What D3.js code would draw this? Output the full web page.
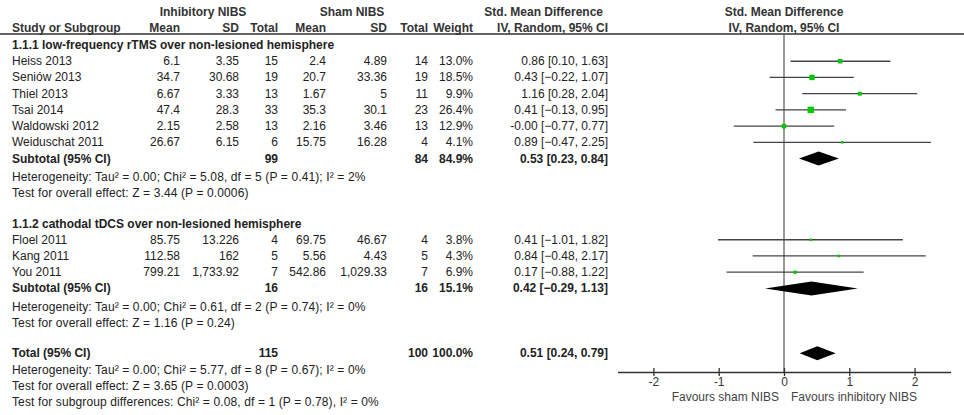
<!DOCTYPE html>
<html><head><meta charset="utf-8">
<script src="https://cdn.jsdelivr.net/npm/d3@7"></script>
<style>
html,body{margin:0;padding:0;background:#fff;}
svg{display:block;font-family:"Liberation Sans",Arial,sans-serif;}
</style></head>
<body><svg id="c" width="964" height="415"></svg>
<script>
// ---------- data ----------
const studies   = ["Heiss 2013","Seniów 2013","Thiel 2013","Tsai 2014","Waldowski 2012","Weiduschat 2011","Floel 2011","Kang  2011","You 2011"];
const studyRow  = [1,2,3,4,5,6,12,13,14];
const meanI     = ["6.1","34.7","6.67","47.4","2.15","26.67","85.75","112.58","799.21"];
const sdI       = ["3.35","30.68","3.33","28.3","2.58","6.15","13.226","162","1,733.92"];
const totalI    = ["15","19","13","33","13","6","4","5","7"];
const meanS     = ["2.4","20.7","1.67","35.3","2.16","15.75","69.75","5.56","542.86"];
const sdS       = ["4.89","33.36","5","30.1","3.46","16.28","46.67","4.43","1,029.33"];
const totalS    = ["14","19","11","23","13","4","4","5","7"];
const weight    = [13.0,18.5,9.9,26.4,12.9,4.1,3.8,4.3,6.9];
const smd       = [0.86,0.43,1.16,0.41,-0.00,0.89,0.41,0.84,0.17];
const smdLabel  = ["0.86","0.43","1.16","0.41","-0.00","0.89","0.41","0.84","0.17"];
const ciLo      = [0.10,-0.22,0.28,-0.13,-0.77,-0.47,-1.01,-0.48,-0.88];
const ciHi      = [1.63,1.07,2.04,0.95,0.77,2.25,1.82,2.17,1.22];

const pooledLabel = ["Subtotal (95% CI)","Subtotal (95% CI)","Total (95% CI)"];
const pooledRow   = [7,15,19];
const pooledTotI  = ["99","16","115"];
const pooledTotS  = ["84","16","100"];
const pooledW     = ["84.9%","15.1%","100.0%"];
const pooledEst   = [0.53,0.42,0.51];
const pooledLo    = [0.23,-0.29,0.24];
const pooledHi    = [0.84,1.13,0.79];

const subgroupTitles = ["1.1.1 low-frequency rTMS over non-lesioned hemisphere","1.1.2 cathodal tDCS over non-lesioned hemisphere"];
const subgroupRow    = [0,11];

const notes = [
  "Heterogeneity: Tau² = 0.00; Chi² = 5.08, df = 5 (P = 0.41); I² = 2%",
  "Test for overall effect: Z = 3.44 (P = 0.0006)",
  "Heterogeneity: Tau² = 0.00; Chi² = 0.61, df = 2 (P = 0.74); I² = 0%",
  "Test for overall effect: Z = 1.16 (P = 0.24)",
  "Heterogeneity: Tau² = 0.00; Chi² = 5.77, df = 8 (P = 0.67); I² = 0%",
  "Test for overall effect: Z = 3.65 (P = 0.0003)",
  "Test for subgroup differences: Chi² = 0.08, df = 1 (P = 0.78), I² = 0%"
];
const noteRow = [8.15,9.15,16.15,17.15,20,21,22];

const axisTicks = [-2,-1,0,1,2];
const favourLeft = "Favours sham NIBS";
const favourRight = "Favours inhibitory NIBS";

// ---------- layout ----------
const svg = d3.select("#c");
const FS = 12;
const txt = "#222";
const y = d3.scaleLinear().domain([0,22]).range([45,402]);
const x = d3.scaleLinear().domain([-2.55,2.55]).range([617.5,950.5]);
const sq = d3.scaleSqrt().domain([0,26.4]).range([0,6.4]);
const col = {name:12, meanI:180, sdI:239, totI:278, meanS:326, sdS:387, totS:428, w:473, ci:608};
const axisY = 372;

function text(g, s, xx, yy, anchor, bold, color){
  return g.append("text").attr("x",xx).attr("y",yy+4).attr("text-anchor",anchor||"start")
    .attr("font-size",FS).attr("font-weight",bold?"bold":"normal").attr("fill",color||txt).text(s);
}

// headers
const hdr = svg.append("g");
text(hdr,"Inhibitory NIBS",203,12,"middle",true,"#333");
text(hdr,"Sham NIBS",352,12,"middle",true,"#333");
text(hdr,"Std. Mean Difference",603,12,"end",true,"#333");
text(hdr,"Std. Mean Difference",784,12,"middle",true,"#333");
text(hdr,"Study or Subgroup",col.name,28,"start",true,"#333");
text(hdr,"Mean",col.meanI,28,"end",true,"#333");
text(hdr,"SD",col.sdI,28,"end",true,"#333");
text(hdr,"Total",col.totI,28,"end",true,"#333");
text(hdr,"Mean",col.meanS,28,"end",true,"#333");
text(hdr,"SD",col.sdS,28,"end",true,"#333");
text(hdr,"Total",col.totS,28,"end",true,"#333");
text(hdr,"Weight",col.w,28,"end",true,"#333");
text(hdr,"IV, Random, 95% CI",608,28,"end",true,"#333");
text(hdr,"IV, Random, 95% CI",784,28,"middle",true,"#333");
svg.append("line").attr("x1",0).attr("x2",964).attr("y1",34).attr("y2",34).attr("stroke","#333").attr("stroke-width",1.5);

// subgroup titles
subgroupTitles.forEach((t,i)=>text(svg,t,col.name,y(subgroupRow[i]),"start",true));

// zero line
svg.append("line").attr("x1",x(0)).attr("x2",x(0)).attr("y1",34).attr("y2",axisY).attr("stroke","#555").attr("stroke-width",1.2);

const fmt = d3.format(".2f");
// study rows
studies.forEach((s,i)=>{
  const yy = y(studyRow[i]);
  text(svg,s,col.name,yy);
  text(svg,meanI[i],col.meanI,yy,"end");
  text(svg,sdI[i],col.sdI,yy,"end");
  text(svg,totalI[i],col.totI,yy,"end");
  text(svg,meanS[i],col.meanS,yy,"end");
  text(svg,sdS[i],col.sdS,yy,"end");
  text(svg,totalS[i],col.totS,yy,"end");
  text(svg,weight[i].toFixed(1)+"%",col.w,yy,"end");
  text(svg,`${smdLabel[i]} [${fmt(ciLo[i])}, ${fmt(ciHi[i])}]`,col.ci,yy,"end");
  svg.append("line").attr("x1",x(ciLo[i])).attr("x2",x(ciHi[i])).attr("y1",yy).attr("y2",yy)
    .attr("stroke","#444").attr("stroke-width",1.3);
  const s2 = sq(weight[i]);
  svg.append("rect").attr("x",x(smd[i])-s2/2).attr("y",yy-s2/2).attr("width",s2).attr("height",s2).attr("fill","#00c800");
});

// pooled rows
pooledLabel.forEach((l,i)=>{
  const yy = y(pooledRow[i]);
  text(svg,l,col.name,yy,"start",true);
  text(svg,pooledTotI[i],col.totI,yy,"end",true);
  text(svg,pooledTotS[i],col.totS,yy,"end",true);
  text(svg,pooledW[i],col.w,yy,"end",true);
  text(svg,`${fmt(pooledEst[i])} [${fmt(pooledLo[i])}, ${fmt(pooledHi[i])}]`,col.ci,yy,"end",true);
  const h = 7;
  svg.append("path").attr("d",`M${x(pooledLo[i])},${yy}L${x(pooledEst[i])},${yy-h}L${x(pooledHi[i])},${yy}L${x(pooledEst[i])},${yy+h}Z`).attr("fill","#000");
});

// notes
notes.forEach((n,i)=>text(svg,n,col.name,y(noteRow[i])).attr("letter-spacing",0.12));

// axis
const ax = svg.append("g").attr("transform",`translate(0,${axisY})`)
  .call(d3.axisBottom(x).tickValues(axisTicks).tickSize(4).tickSizeOuter(0).tickFormat(d=>d));
ax.select(".domain").attr("stroke","#333").attr("stroke-width",1.3);
ax.selectAll(".tick line").attr("y1",-4).attr("stroke","#333").attr("stroke-width",1.3);
ax.selectAll(".tick text").attr("font-size",FS).attr("font-family","'Liberation Sans',Arial,sans-serif").attr("fill","#333").attr("dy","0.6em");
text(svg,favourLeft,779,397,"end",false,"#444");
text(svg,favourRight,791,397,"start",false,"#444");
</script></body></html>
